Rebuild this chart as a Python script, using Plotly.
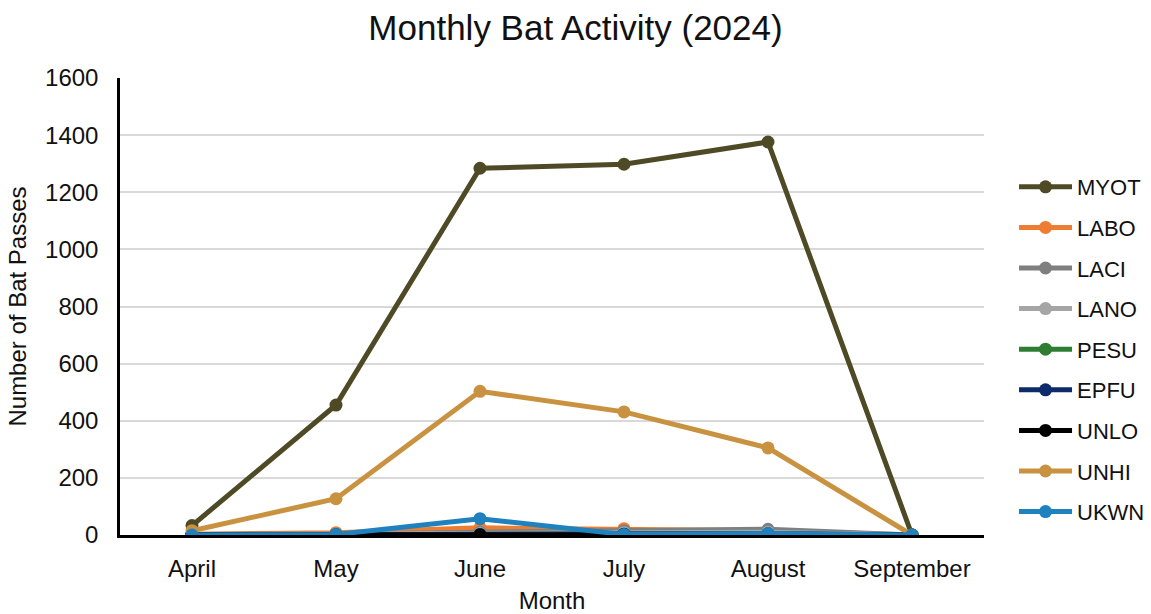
import plotly.graph_objects as go

months = ["April", "May", "June", "July", "August", "September"]
species = ["MYOT", "LABO", "LACI", "LANO", "PESU", "EPFU", "UNLO", "UNHI", "UKWN"]
colors = ["#4f4a26", "#ed7d31", "#7f7f7f", "#a5a5a5", "#2e7d32", "#0d2a6b", "#000000", "#c99240", "#1f82bf"]

MYOT = [33, 455, 1284, 1298, 1376, 0]
LABO = [3, 8, 25, 22, 15, 0]
LACI = [2, 3, 10, 15, 20, 0]
LANO = [1, 2, 5, 8, 10, 0]
PESU = [0, 1, 2, 3, 4, 0]
EPFU = [0, 1, 2, 3, 4, 0]
UNLO = [0, 0, 0, 2, 1, 0]
UNHI = [15, 127, 503, 431, 305, 0]
UKWN = [0, 2, 57, 2, 5, 0]
values = [MYOT, LABO, LACI, LANO, PESU, EPFU, UNLO, UNHI, UKWN]

fig = go.Figure()
for name, col, vals in zip(species, colors, values):
    fig.add_trace(go.Scatter(
        x=months, y=vals, name=name, mode="lines+markers",
        line=dict(color=col, width=5),
        marker=dict(color=col, size=13),
        legendgroup=name,
    ))

font = "Liberation Sans, Arial, sans-serif"
fig.update_layout(
    width=1151, height=614,
    paper_bgcolor="white", plot_bgcolor="white",
    margin=dict(l=120, r=167, t=78, b=79, autoexpand=False),
    title=dict(text="Monthly Bat Activity (2024)", x=0.5, xanchor="center",
               y=0.955, yanchor="middle",
               font=dict(family=font, size=35, color="#111111")),
    font=dict(family=font, size=24, color="#111111"),
    xaxis=dict(range=[-0.5, 5.5], showgrid=False, showline=True, linecolor="black",
               linewidth=2.5, ticks="", tickfont=dict(size=24), ticklabelstandoff=10,
               title=dict(text="Month", font=dict(size=24), standoff=14)),
    yaxis=dict(range=[0, 1600], dtick=200, showgrid=True, gridcolor="#d9d9d9", gridwidth=1.5,
               showline=True, linecolor="black", linewidth=2.5, zeroline=False, ticks="",
               tickfont=dict(size=24), ticklabelstandoff=14,
               title=dict(text="Number of Bat Passes", font=dict(size=24), standoff=12)),
    legend=dict(xref="container", yref="container", x=0.881, xanchor="left",
                y=0.4308, yanchor="middle", maxheight=600,
                traceorder="grouped", tracegroupgap=9,
                font=dict(size=22, color="#111111"), itemwidth=53),
    showlegend=True,
)
fig.write_html("out.html")
